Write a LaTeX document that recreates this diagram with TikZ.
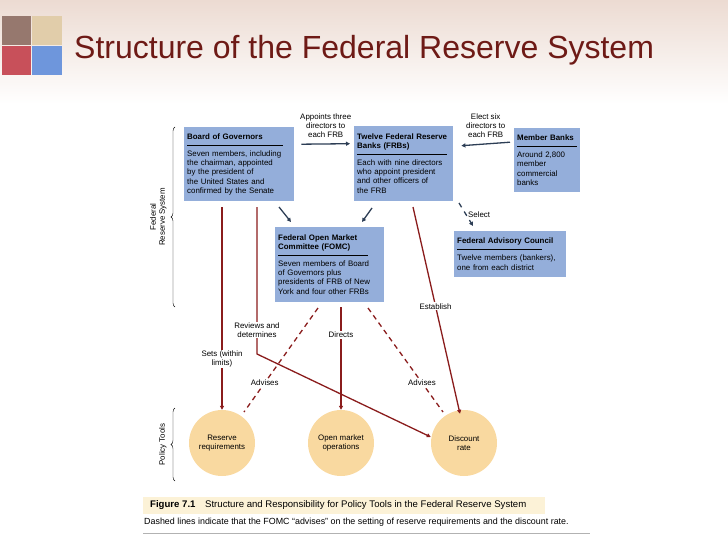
\documentclass[tikz,border=0pt]{standalone}
\usepackage{fontspec}
\setmainfont{Liberation Sans}
\usepackage{tikz}
\usetikzlibrary{calc, positioning, decorations.pathreplacing, arrows.meta}
\definecolor{boxblue}{HTML}{94AEDA}
\definecolor{darkred}{HTML}{8A1C1C}
\definecolor{navy}{HTML}{2D3E55}
\definecolor{tan}{HTML}{F9D9A0}
\definecolor{titlered}{HTML}{6E1A16}
\tikzset{
  fedbox/.style = {fill = boxblue, anchor = north west, align = left, inner sep = 3pt,
    font = \fontsize{7.9}{9.3}\selectfont, text width = #1},
  tool/.style = {circle, fill = tan, minimum size = 66pt, align = center,
    font = \fontsize{7.9}{9.3}\selectfont},
  lbl/.style = {align = center, font = \fontsize{7.9}{9}\selectfont},
  redline/.style = {draw = darkred, line width = 1.3pt, -{Triangle[length=4pt,width=4pt]}},
  blueline/.style = {draw = navy, line width = 1.3pt, -{Triangle[length=4pt,width=4pt]}},
}
\newcommand{\boxhead}[3]{\textbf{#1}\\[-3pt]\rule{#2}{0.7pt}\\[1.5pt]#3}
\begin{document}
\begin{tikzpicture}[x=1pt, y=-1pt]
  \useasboundingbox (0,0) rectangle (728,546);
  % header band
  \shade [top color = {rgb,255:red,236;green,219;blue,210}, bottom color = white] (0,0) rectangle (728,104);
  \fill [fill = {rgb,255:red,150;green,120;blue,110}] (2,16) rectangle (31,45);
  \fill [fill = {rgb,255:red,225;green,205;blue,170}] (32,16) rectangle (62,45);
  \fill [fill = {rgb,255:red,200;green,80;blue,90}] (2,46) rectangle (31,75);
  \fill [fill = {rgb,255:red,110;green,150;blue,220}] (32,46) rectangle (62,75);
  \node [anchor = west, text = titlered, font = \fontsize{32}{36}\selectfont, inner sep = 0pt] (title) at (74,50) {Structure of the Federal Reserve System};

  % boxes
  \node [fedbox = 104pt, minimum height = 74pt] (bog) at (184,127)
    {\boxhead{Board of Governors}{96pt}{Seven members, including\\the chairman, appointed\\by the president of\\the United States and\\confirmed by the Senate}};
  \node [fedbox = 93pt, minimum height = 75pt] (frb) at (354,126)
    {\boxhead{Twelve Federal Reserve\\[-1pt]Banks (FRBs)}{90pt}{Each with nine directors\\who appoint president\\and other officers of\\the FRB}};
  \node [fedbox = 60pt, minimum height = 64pt] (mb) at (514,128)
    {\boxhead{Member Banks}{60pt}{Around 2,800\\member\\commercial\\banks}};
  \node [fedbox = 103pt, minimum height = 75pt] (fomc) at (275,227)
    {\boxhead{Federal Open Market\\[-1pt]Committee (FOMC)}{90pt}{Seven members of Board\\of Governors plus\\presidents of FRB of New\\York and four other FRBs}};
  \node [fedbox = 106pt, minimum height = 46pt] (fac) at (454,231)
    {\boxhead{Federal Advisory Council}{85pt}{Twelve members (bankers),\\one from each district}};

  % policy tools
  \node [tool] (rr) at (222,443) {Reserve\\requirements};
  \node [tool] (omo) at (341,443) {Open market\\operations};
  \node [tool] (dr) at (464,443) {Discount\\rate};

  % braces
  \draw [decorate, decoration = {brace, amplitude = 4pt}] (175,307) -- (175,127)
    node [midway, left = 5pt, rotate = 90, anchor = south, lbl] (frs) {Federal\\Reserve System};
  \draw [decorate, decoration = {brace, amplitude = 4pt}] (175,481) -- (175,408)
    node [midway, left = 5pt, rotate = 90, anchor = south, lbl] (pt) {Policy Tools};

  % blue connectors
  \draw [blueline] ($(bog.east)+(7,-20)$) -- node [above = 2pt, lbl] {Appoints three\\directors to\\each FRB} ($(frb.west)+(-4,-20)$);
  \draw [blueline] ($(mb.west)+(-4,-18)$) -- node [above = 2pt, lbl] {Elect six\\directors to\\each FRB} ($(frb.east)+(8,-18)$);
  \draw [blueline] (279,207) -- (291,222);
  \draw [blueline] (372,208) -- (362,222);
  \draw [blueline, dash pattern = on 5pt off 5pt] (459,203) -- node [right = 1pt, lbl, fill = white, inner sep = 0.5pt] {Select} (473,226);

  % red connectors
  \draw [redline] (rr.north |- 0,207) -- node [pos = 0.75, fill = white, lbl, inner sep = 1pt] {Sets (within\\limits)} (rr.north);
  \draw [redline] (257,207) -- (257,354) -- (dr.west |- 0,437);
  \node [lbl, fill = white, inner sep = 1pt] (rev) at (257,330) {Reviews and\\determines};
  \draw [redline] (413,207) -- node [pos = 0.48, lbl, fill = white, inner sep = 1pt] {Establish} ($(dr.north)+(-4,4)$);
  \draw [redline] (fomc.south -| omo) ++(0,5) -- node [pos = 0.27, lbl, fill = white, inner sep = 1pt] {Directs} (omo.north);
  \draw [redline, -, dash pattern = on 5pt off 4pt] (318,308) -- node [pos = 0.72, lbl, fill = white, inner sep = 1pt] {Advises} (244,412);
  \draw [redline, -, dash pattern = on 5pt off 4pt] (368,308) -- node [pos = 0.72, lbl, fill = white, inner sep = 1pt] {Advises} (443,412);

  % caption
  \fill [fill = {rgb,255:red,252;green,242;blue,215}] (143,497) rectangle (545,514);
  \node [anchor = west, font = \fontsize{9.6}{11}\selectfont, inner sep = 0pt] (cap) at (150,505.5) {\textbf{Figure 7.1}\quad Structure and Responsibility for Policy Tools in the Federal Reserve System};
  \node [anchor = west, font = \fontsize{8.9}{10}\selectfont, inner sep = 0pt] (note) at (144,522) {Dashed lines indicate that the FOMC ``advises'' on the setting of reserve requirements and the discount rate.};
  \draw [gray!60, line width = 0.6pt] (143,533) -- (590,533);
\end{tikzpicture}
\end{document}
